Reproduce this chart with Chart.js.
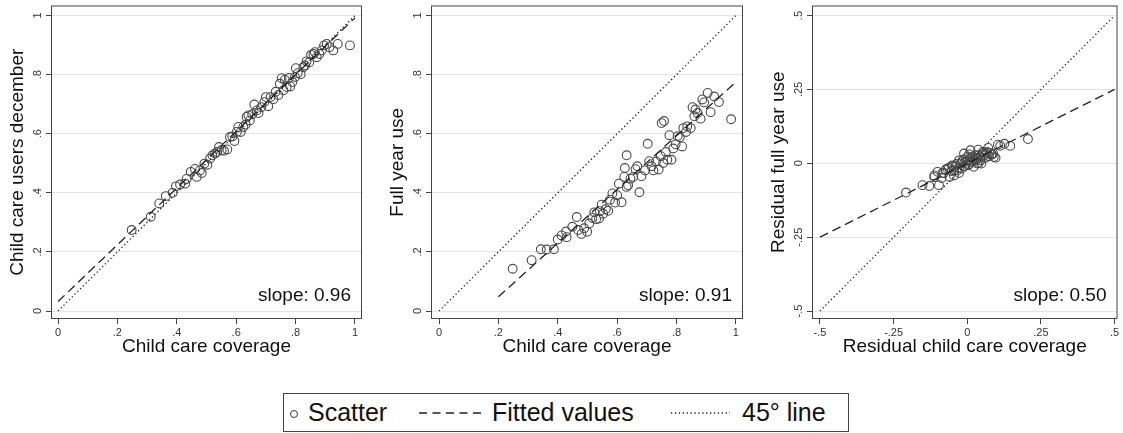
<!DOCTYPE html>
<html>
<head>
<meta charset="utf-8">
<script src="https://cdn.jsdelivr.net/npm/chart.js@4.4.1/dist/chart.umd.min.js"></script>
<style>
  body { margin: 0; background: #fff; width: 1123px; height: 433px; position: relative; overflow: hidden;
         font-family: "Liberation Sans", Arial, sans-serif; color: #111; }
  canvas.panel { position: absolute; top: 0; }
  #legend { position: absolute; left: 283px; top: 393px; width: 566px; height: 39px; box-sizing: border-box;
            border: 1px solid #444; }
  #legend span { position: absolute; top: 6px; font-size: 25px; line-height: 25px; white-space: nowrap; }
  #legend svg { position: absolute; left: 0; top: 0; }
</style>
</head>
<body>
<canvas id="c1" class="panel" width="372" height="370" style="left:0px"></canvas>
<canvas id="c2" class="panel" width="372" height="370" style="left:380px"></canvas>
<canvas id="c3" class="panel" width="362" height="370" style="left:761px"></canvas>

<div id="legend">
  <svg width="566" height="39">
    <circle cx="10" cy="20" r="3.5" fill="none" stroke="#333" stroke-width="1"/>
    <line x1="135" y1="19" x2="197" y2="19" stroke="#222" stroke-width="1.3" stroke-dasharray="8,5.5"/>
    <line x1="387" y1="19" x2="446" y2="19" stroke="#222" stroke-width="1.3" stroke-dasharray="1.3,2.6"/>
  </svg>
  <span style="left:24px">Scatter</span>
  <span style="left:208px">Fitted values</span>
  <span style="left:458px">45° line</span>
</div>

<script>
// ticks shared by the two level panels
const unitTicks = [0, 0.2, 0.4, 0.6, 0.8, 1];
const unitLabels = ['0', '.2', '.4', '.6', '.8', '1'];
// ticks of the residual panel
const residTicks = [-0.5, -0.25, 0, 0.25, 0.5];
const residLabels = ['-.5', '-.25', '0', '.25', '.5'];

// panel 1: coverage vs users in december
const cov1 = [0.248,0.312,0.341,0.363,0.386,0.397,0.411,0.428,0.433,0.447,0.461,0.467,0.478,0.484,0.493,0.503,0.512,0.520,0.529,0.536,
  0.542,0.551,0.559,0.570,0.579,0.587,0.594,0.602,0.607,0.615,0.624,0.632,0.635,0.641,0.646,0.654,0.661,0.669,0.675,0.684,
  0.695,0.700,0.708,0.716,0.725,0.733,0.742,0.747,0.753,0.759,0.764,0.770,0.777,0.782,0.789,0.798,0.801,0.807,0.817,0.826,
  0.832,0.837,0.846,0.852,0.860,0.865,0.871,0.880,0.888,0.896,0.905,0.914,0.927,0.942,0.983];
const users1 = [0.274,0.319,0.364,0.389,0.400,0.422,0.428,0.431,0.447,0.471,0.481,0.454,0.476,0.467,0.499,0.495,0.516,0.527,0.533,0.538,
  0.555,0.544,0.542,0.547,0.589,0.591,0.575,0.606,0.623,0.606,0.623,0.631,0.657,0.662,0.645,0.666,0.699,0.679,0.670,0.690,
  0.707,0.724,0.693,0.724,0.717,0.742,0.731,0.769,0.788,0.747,0.783,0.758,0.789,0.760,0.775,0.792,0.822,0.805,0.801,0.825,
  0.831,0.845,0.842,0.867,0.870,0.876,0.859,0.870,0.882,0.899,0.904,0.893,0.882,0.904,0.899];
const fit1X = [0, 1];
const fit1Y = [0.032, 0.992];

// panel 2: coverage vs full year use
const cov2 = [0.248,0.312,0.343,0.363,0.387,0.400,0.413,0.428,0.430,0.449,0.464,0.469,0.480,0.489,0.499,0.506,0.517,0.523,0.529,0.539,
  0.542,0.548,0.553,0.562,0.570,0.576,0.584,0.593,0.600,0.606,0.615,0.624,0.626,0.632,0.632,0.637,0.645,0.654,0.662,0.668,
  0.675,0.682,0.694,0.703,0.708,0.716,0.722,0.731,0.740,0.747,0.750,0.758,0.755,0.764,0.769,0.776,0.783,0.789,0.797,0.804,
  0.811,0.819,0.823,0.832,0.836,0.848,0.854,0.860,0.864,0.871,0.881,0.887,0.893,0.905,0.915,0.927,0.943,0.984];
const fullYear2 = [0.143,0.172,0.209,0.208,0.209,0.242,0.256,0.269,0.250,0.285,0.318,0.274,0.261,0.280,0.268,0.296,0.315,0.334,0.311,0.313,
  0.338,0.360,0.329,0.345,0.339,0.377,0.398,0.367,0.392,0.431,0.368,0.454,0.484,0.527,0.420,0.426,0.448,0.454,0.480,0.490,
  0.402,0.456,0.476,0.566,0.507,0.490,0.476,0.506,0.479,0.524,0.636,0.643,0.501,0.538,0.512,0.595,0.512,0.550,0.564,0.592,
  0.588,0.557,0.619,0.606,0.625,0.619,0.690,0.659,0.682,0.670,0.651,0.716,0.706,0.738,0.673,0.726,0.707,0.649];
const fit2X = [0.2, 1];
const fit2Y = [0.048, 0.775];

// panel 3: residuals
const residCov = [-0.208,-0.152,-0.129,-0.112,-0.096,-0.087,-0.079,-0.067,-0.060,-0.053,-0.045,-0.039,-0.034,-0.028,-0.022,-0.019,-0.015,-0.009,-0.006,0.000,
  0.003,0.008,0.011,0.015,0.019,0.022,0.026,0.030,0.037,0.039,0.045,0.048,0.053,0.060,0.065,0.071,0.076,0.082,0.088,0.096,
  0.104,0.112,0.126,0.146,0.206,-0.011,-0.051,-0.028,0.006,0.034,
  -0.112,-0.101,-0.084,-0.073,-0.062,-0.051,-0.045,-0.034,-0.028,-0.017,-0.011,0.000,0.006,0.011,0.017,0.028,0.034,0.039,0.045,0.056,
  0.062,0.067,0.073,0.084,0.090];
const residUse = [-0.099,-0.074,-0.077,-0.047,-0.074,-0.050,-0.033,-0.018,-0.046,-0.026,-0.041,-0.007,-0.024,-0.033,-0.001,-0.018,0.012,-0.010,0.005,0.021,
  -0.007,0.010,0.044,0.005,0.021,-0.012,0.027,0.010,0.046,0.001,0.021,-0.001,0.038,0.027,0.033,0.052,0.035,0.029,0.033,0.019,
  0.063,0.059,0.066,0.059,0.082,0.033,-0.010,0.010,0.030,0.016,
  -0.041,-0.029,-0.033,-0.021,-0.015,-0.007,-0.024,-0.001,-0.015,0.004,-0.010,0.010,-0.003,0.021,0.004,0.016,-0.001,0.027,0.010,0.033,
  0.019,0.038,0.024,0.030,0.021];
const fit3X = [-0.5, 0.5];
const fit3Y = [-0.25, 0.25];

const slopes = ['slope: 0.96', 'slope: 0.91', 'slope: 0.50'];

const FONT = '"Liberation Sans", Arial, sans-serif';
const pts = (xs, ys) => xs.map((x, i) => ({ x: x, y: ys[i] }));

// box around the plot region, rotated y labels and the slope note
const framePlugin = {
  id: 'frame',
  afterDraw(chart, args, opts) {
    const { ctx, chartArea: a } = chart;
    const ys = chart.scales.y;
    ctx.save();
    ctx.strokeStyle = '#444';
    ctx.lineWidth = 1;
    ctx.strokeRect(a.left + 0.5, a.top + 0.5, a.right - a.left - 1, a.bottom - a.top - 1);

    ctx.fillStyle = '#333';
    ctx.font = '11px ' + FONT;
    ctx.textAlign = 'center';
    ctx.textBaseline = 'alphabetic';
    ys.ticks.forEach((t, i) => {
      const p = ys.getPixelForValue(t.value);
      ctx.save();
      ctx.translate(a.left - 10, p);
      ctx.rotate(-Math.PI / 2);
      ctx.fillText(opts.yLabels[i], 0, 0);
      ctx.restore();
    });

    ctx.fillStyle = '#111';
    ctx.font = '19px ' + FONT;
    ctx.textAlign = 'right';
    ctx.fillText(opts.note, a.right - 11, a.bottom - 18);
    ctx.restore();
  }
};

function makePanel(id, p) {
  new Chart(document.getElementById(id), {
    data: {
      datasets: [
        { type: 'scatter', label: 'Scatter', data: pts(p.xs, p.ys), order: 3,
          pointStyle: 'circle', pointRadius: 4.4, borderColor: '#4a4a4a', backgroundColor: 'rgba(0,0,0,0)', borderWidth: 1.1 },
        { type: 'line', label: 'Fitted values', data: pts(p.fitX, p.fitY), order: 2,
          borderColor: '#222', borderWidth: 1.3, borderDash: [9, 5], pointRadius: 0, fill: false },
        { type: 'line', label: '45° line', data: pts(p.diag, p.diag), order: 1,
          borderColor: '#222', borderWidth: 1.3, borderDash: [1.3, 2.6], pointRadius: 0, fill: false }
      ]
    },
    options: {
      responsive: false,
      animation: false,
      layout: { padding: { top: 5, right: p.padRight, left: 0, bottom: 0 } },
      plugins: {
        legend: { display: false },
        tooltip: { enabled: false },
        frame: { yLabels: p.yLabels, note: p.note }
      },
      scales: {
        x: {
          type: 'linear', min: p.xMin, max: p.xMax,
          afterBuildTicks: s => { s.ticks = p.xTicks.map(v => ({ value: v })); },
          afterFit: s => { s.height = 51; },
          ticks: { callback: (v, i) => p.xLabels[i], autoSkip: false, maxRotation: 0, padding: 2,
                   color: '#333', font: { family: FONT, size: 11 } },
          grid: { drawOnChartArea: false, drawTicks: true, tickLength: 5, tickColor: '#444' },
          border: { display: false },
          title: { display: true, text: p.xTitle, color: '#111', font: { family: FONT, size: 19 },
                   padding: { top: 0, bottom: 12 } }
        },
        y: {
          type: 'linear', min: p.yMin, max: p.yMax,
          afterBuildTicks: s => { s.ticks = p.yTicks.map(v => ({ value: v })); },
          afterFit: s => { s.width = 51; },
          ticks: { display: false },
          grid: { color: '#e4e4e4', lineWidth: 1, drawTicks: true, tickLength: 5, tickColor: '#444' },
          border: { display: false },
          title: { display: true, text: p.yTitle, color: '#111', font: { family: FONT, size: 19 },
                   padding: { top: 6, bottom: 0 } }
        }
      }
    },
    plugins: [framePlugin]
  });
}

makePanel('c1', {
  xs: cov1, ys: users1, fitX: fit1X, fitY: fit1Y, diag: [0, 1],
  xMin: -0.0236, xMax: 1.0236, yMin: -0.027, yMax: 1.034, padRight: 10,
  xTicks: unitTicks, xLabels: unitLabels, yTicks: unitTicks, yLabels: unitLabels,
  xTitle: 'Child care coverage', yTitle: 'Child care users december', note: slopes[0]
});

makePanel('c2', {
  xs: cov2, ys: fullYear2, fitX: fit2X, fitY: fit2Y, diag: [0, 1],
  xMin: -0.027, xMax: 1.024, yMin: -0.027, yMax: 1.034, padRight: 9,
  xTicks: unitTicks, xLabels: unitLabels, yTicks: unitTicks, yLabels: unitLabels,
  xTitle: 'Child care coverage', yTitle: 'Full year use', note: slopes[1]
});

makePanel('c3', {
  xs: residCov, ys: residUse, fitX: fit3X, fitY: fit3Y, diag: [-0.5, 0.5],
  xMin: -0.527, xMax: 0.51, yMin: -0.527, yMax: 0.534, padRight: 3,
  xTicks: residTicks, xLabels: residLabels, yTicks: residTicks, yLabels: residLabels,
  xTitle: 'Residual child care coverage', yTitle: 'Residual full year use', note: slopes[2]
});
</script>
</body>
</html>
